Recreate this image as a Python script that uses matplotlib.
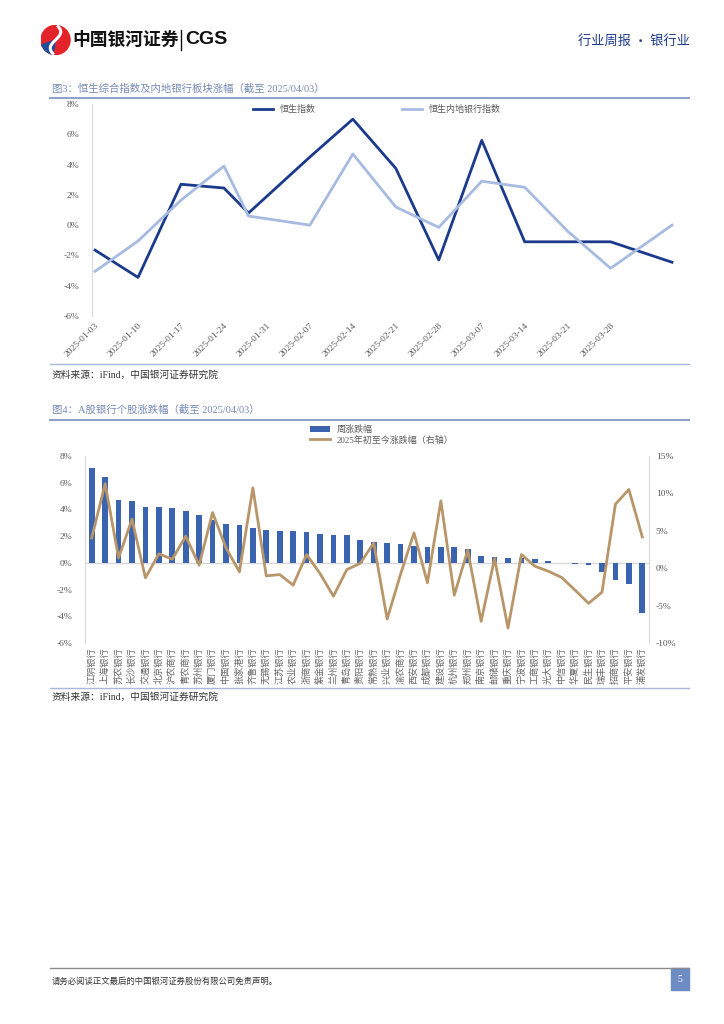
import numpy as np
import pandas as pd
import matplotlib
matplotlib.use("Agg")
import matplotlib.pyplot as plt
from matplotlib.patches import Rectangle, Circle, Wedge
from matplotlib.lines import Line2D

plt.rcParams['font.family'] = ['Liberation Serif', 'Noto Sans CJK SC', 'DejaVu Sans']

# 图3 data: weekly closes (HK market), change %
hk_dates = ['2025-01-03', '2025-01-10', '2025-01-17', '2025-01-24', '2025-01-28', '2025-02-07',
            '2025-02-14', '2025-02-21', '2025-02-28', '2025-03-07', '2025-03-14', '2025-03-21',
            '2025-03-28', '2025-04-07']
hsi_chg = [-1.65, -3.45, 2.7, 2.45, 0.8, 4.5, 7.0, 3.75, -2.3, 5.6, -1.1, -1.1, -1.1, -2.45]
bank_idx_chg = [-3.05, -1.05, 1.65, 3.9, 0.6, 0.0, 4.7, 1.2, -0.15, 2.9, 2.5, -0.4, -2.85, 0.0]
week_ticks = ['2025-01-03', '2025-01-10', '2025-01-17', '2025-01-24', '2025-01-31', '2025-02-07',
              '2025-02-14', '2025-02-21', '2025-02-28', '2025-03-07', '2025-03-14', '2025-03-21',
              '2025-03-28']

# 图4 data: A-share banks
bank_names = ['江阴银行', '上海银行', '苏农银行', '长沙银行', '交通银行', '北京银行', '沪农商行',
              '青农商行', '苏州银行', '厦门银行', '中国银行', '张家港行', '齐鲁银行', '无锡银行',
              '江苏银行', '农业银行', '浙商银行', '紫金银行', '兰州银行', '青岛银行', '贵阳银行',
              '常熟银行', '兴业银行', '渝农商行', '西安银行', '成都银行', '建设银行', '杭州银行',
              '郑州银行', '南京银行', '邮储银行', '重庆银行', '宁波银行', '工商银行', '光大银行',
              '中信银行', '华夏银行', '民生银行', '瑞丰银行', '招商银行', '平安银行', '浦发银行']
week_chg = [7.1, 6.4, 4.7, 4.6, 4.2, 4.15, 4.1, 3.9, 3.55, 3.2, 2.9, 2.8, 2.6, 2.45, 2.4, 2.35,
            2.3, 2.15, 2.1, 2.05, 1.72, 1.57, 1.45, 1.42, 1.27, 1.22, 1.2, 1.17, 1.02, 0.5, 0.47,
            0.4, 0.37, 0.3, 0.15, 0.02, -0.07, -0.17, -0.72, -1.3, -1.62, -3.75]
ytd_chg = [4.05, 11.3, 1.38, 6.55, -1.29, 1.92, 1.2, 4.28, 0.4, 7.44, 2.72, -0.49, 10.74, -1.03,
           -0.85, -2.27, 1.83, -0.71, -3.74, -0.18, 0.65, 3.38, -6.8, -0.8, 4.72, -1.96, 9.0,
           -3.6, 2.41, -7.1, 1.29, -8.0, 1.83, 0.27, -0.4, -1.25, -2.94, -4.7, -3.2, 8.56, 10.52,
           4.19]

W, H = 724, 1024
fig = plt.figure(figsize=(W / 100, H / 100), dpi=100)


def box(x0, y0, x1, y1):
    return [x0 / W, 1 - y1 / H, (x1 - x0) / W, (y1 - y0) / H]


def hline(y, x0, x1, color, lw):
    fig.add_artist(Line2D([x0 / W, x1 / W], [1 - y / H, 1 - y / H], color=color, lw=lw))


cjk = 'Noto Sans CJK SC'
title_col = '#7589B5'
tick_col = '#595959'

# header
lax = fig.add_axes(box(40, 25, 71, 55))
lax.set_xlim(-1, 1)
lax.set_ylim(-1, 1)
lax.set_aspect('equal')
lax.axis('off')
lax.add_patch(Circle((0, 0), 0.97, color='#E3242B'))
lax.add_patch(Wedge((0, 0), 0.97, 200, 260, color='#1F4E9C'))
t = np.linspace(-1, 1, 50)
lax.plot(0.35 * np.sin(t * 2.6), t * 0.9, color='white', lw=2.2)
fig.text(72 / W, 1 - 40 / H, '中国银河证券', family=cjk, fontsize=12.8, weight='bold',
         va='center', color='#111111')
fig.add_artist(Line2D([181 / W, 181 / W], [1 - 30 / H, 1 - 50 / H], color='#111111', lw=1))
fig.text(185 / W, 1 - 40 / H, 'CGS', family='Liberation Sans', fontsize=14, weight='bold',
         va='center', color='#111111')
fig.text(690 / W, 1 - 41 / H, '行业周报 · 银行业', family=cjk, fontsize=9.5, ha='right',
         va='center', color='#1F3A8A')

# 图3
fig.text(52 / W, 1 - 89 / H, '图3：恒生综合指数及内地银行板块涨幅（截至 2025/04/03）',
         fontsize=7.5, color=title_col, va='center')
hline(98, 50, 689, '#8FA2CB', 1.5)

ax1 = fig.add_axes(box(92, 104, 672, 316))
d = pd.to_datetime(hk_dates)
ax1.plot(d, hsi_chg, color='#1B3A8C', lw=2.0, label='恒生指数', clip_on=False)
ax1.plot(d, bank_idx_chg, color='#A7BBE2', lw=2.0, label='恒生内地银行指数', clip_on=False)
ax1.set_xlim(d[0] - pd.Timedelta(days=0.5), d[-1])
ax1.set_ylim(-6, 8)
ax1.set_yticks(range(-6, 9, 2))
ax1.set_yticklabels([f'{v}%' for v in range(-6, 9, 2)])
ticks = pd.to_datetime(week_ticks)
ax1.set_xticks(ticks)
ax1.set_xticklabels(week_ticks, rotation=45, ha='right', rotation_mode='anchor')
ax1.tick_params(axis='both', length=0, labelsize=6.8, labelcolor=tick_col)
ax1.tick_params(axis='y', pad=9)
ax1.tick_params(axis='x', pad=4)
for s in ['top', 'right', 'bottom']:
    ax1.spines[s].set_visible(False)
ax1.spines['left'].set_color('#D9D9D9')
ax1.legend(loc='upper left', bbox_to_anchor=(253 / W, 1 - 105 / H), bbox_transform=fig.transFigure,
           ncol=2, frameon=False, fontsize=6.5, handlelength=2.2, columnspacing=9.5,
           borderpad=0, borderaxespad=0, labelcolor='#595959')

hline(364, 50, 689, '#A9B8D8', 1.0)
fig.text(52 / W, 1 - 375 / H, '资料来源：iFind，中国银河证券研究院', fontsize=7, color='#333333',
         va='center')

# 图4
fig.text(52 / W, 1 - 410 / H, '图4：A股银行个股涨跌幅（截至 2025/04/03）',
         fontsize=7.5, color=title_col, va='center')
hline(420, 50, 689, '#8FA2CB', 1.5)

ax2 = fig.add_axes(box(85, 456, 649, 643))
x = np.arange(len(bank_names))
bars = ax2.bar(x, week_chg, width=0.42, color='#3A64AF', label='周涨跌幅', zorder=2)
ax2.axhline(0, color='#D9D9D9', lw=1, zorder=1)
ax2.set_xlim(-0.5, len(bank_names) - 0.5)
ax2.set_ylim(-6, 8)
ax2.set_yticks(range(-6, 9, 2))
ax2.set_yticklabels([f'{v}%' for v in range(-6, 9, 2)])
ax2.set_xticks(x)
ax2.set_xticklabels(bank_names, rotation=90, family=cjk)
ax2.tick_params(axis='both', length=0, labelsize=6.8, labelcolor=tick_col)
ax2.tick_params(axis='x', pad=3, labelsize=6.6, labelcolor='#666666')
ax2.tick_params(axis='y', pad=9)
for s in ['top', 'right', 'bottom']:
    ax2.spines[s].set_visible(False)
ax2.spines['left'].set_color('#D9D9D9')

ax3 = ax2.twinx()
line, = ax3.plot(x, ytd_chg, color='#B8966A', lw=2.0, label='2025年初至今涨跌幅（右轴）', zorder=3)
ax3.set_ylim(-10, 15)
ax3.set_yticks(range(-10, 16, 5))
ax3.set_yticklabels([f'{v}%' for v in range(-10, 16, 5)])
ax3.tick_params(axis='y', length=0, labelsize=6.8, labelcolor=tick_col, pad=5)
for s in ['top', 'left', 'bottom']:
    ax3.spines[s].set_visible(False)
ax3.spines['right'].set_color('#D9D9D9')
ax3.legend([bars, line], ['周涨跌幅', '2025年初至今涨跌幅（右轴）'], loc='upper left',
           bbox_to_anchor=(310 / W, 1 - 425 / H), bbox_transform=fig.transFigure,
           frameon=False, fontsize=6.5, handlelength=2.2, labelspacing=0.15,
           borderpad=0, borderaxespad=0, labelcolor='#595959')

hline(688, 50, 689, '#A9B8D8', 1.0)
fig.text(52 / W, 1 - 697 / H, '资料来源：iFind，中国银河证券研究院', fontsize=7, color='#333333',
         va='center')

# footer
hline(968, 50, 689, '#8C8C8C', 1.0)
fig.text(52 / W, 1 - 981 / H, '请务必阅读正文最后的中国银河证券股份有限公司免责声明。',
         fontsize=6, color='#333333', va='center', family=cjk)
fig.add_artist(Rectangle((671 / W, 1 - 990 / H), 18 / W, 22 / H, color='#6E8CC4',
                         transform=fig.transFigure))
fig.text(680 / W, 1 - 979 / H, '5', fontsize=7, color='white', ha='center', va='center')

fig.savefig('out.png', dpi=100)
